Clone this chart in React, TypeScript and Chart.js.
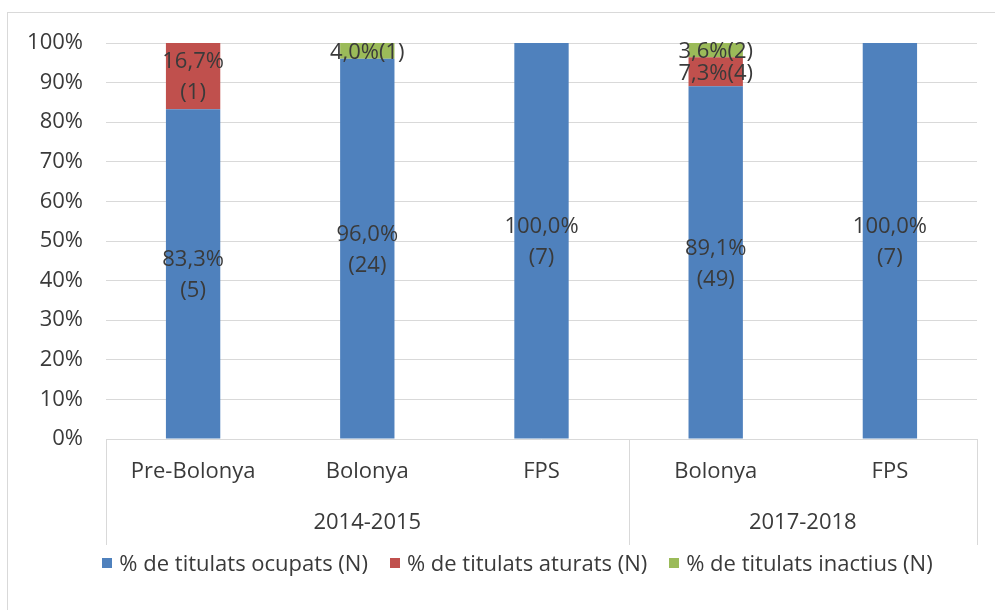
import React, { useEffect, useRef } from "react";
import { Chart, registerables } from "chart.js";

Chart.register(...registerables);

const categories = ["Pre-Bolonya", "Bolonya", "FPS", "Bolonya", "FPS"];
const groupLabels = ["2014-2015", "2017-2018"];
const groupSizes = [3, 2];
const seriesNames = [
  "% de titulats ocupats (N)",
  "% de titulats aturats (N)",
  "% de titulats inactius (N)",
];
const seriesColors = ["#4F81BD", "#C0504D", "#9BBB59"];
const ocupatsPct = [83.3, 96.0, 100.0, 89.1, 100.0];
const aturatsPct = [16.7, 0, 0, 7.3, 0];
const inactiusPct = [0, 4.0, 0, 3.6, 0];
const ocupatsN = [5, 24, 7, 49, 7];
const aturatsN = [1, 0, 0, 4, 0];
const inactiusN = [0, 1, 0, 2, 0];
const yMin = 0;
const yMax = 100;
const yStep = 10;

const FONT_FAMILY = "'Open Sans', sans-serif";
const FONT_SIZE = 22;
const TEXT_COLOR = "#3a3a3a";
const GRID_COLOR = "#d9d9d9";

const countsBySeries = [ocupatsN, aturatsN, inactiusN];

const fmtPct = (v: number) => v.toFixed(1).replace(".", ",") + "%";

const decorPlugin = {
  id: "decor",
  beforeDraw(chart: any) {
    const ctx = chart.ctx;
    ctx.save();
    ctx.fillStyle = "#ffffff";
    ctx.fillRect(0, 0, chart.width, chart.height);
    ctx.strokeStyle = GRID_COLOR;
    ctx.lineWidth = 1;
    ctx.strokeRect(7.5, 12.5, 1020, 640);
    ctx.restore();
  },
  afterDatasetsDraw(chart: any) {
    const ctx = chart.ctx;
    ctx.save();
    ctx.font = `${FONT_SIZE}px ${FONT_FAMILY}`;
    ctx.fillStyle = TEXT_COLOR;
    ctx.textAlign = "center";
    ctx.textBaseline = "middle";
    chart.data.datasets.forEach((ds: any, di: number) => {
      const meta = chart.getDatasetMeta(di);
      meta.data.forEach((bar: any, i: number) => {
        const v = ds.data[i];
        if (!v) return;
        const n = countsBySeries[di][i];
        const top = Math.min(bar.y, bar.base);
        const bottom = Math.max(bar.y, bar.base);
        const cy = (top + bottom) / 2;
        const h = bottom - top;
        const p = fmtPct(v);
        const c = `(${n})`;
        if (h >= 50) {
          ctx.fillText(p, bar.x, cy - 14);
          ctx.fillText(c, bar.x, cy + 17);
        } else {
          ctx.fillText(p + c, bar.x, cy + 2);
        }
      });
    });
    ctx.restore();
  },
  afterDraw(chart: any) {
    const ctx = chart.ctx;
    const xs = chart.scales.x;
    const area = chart.chartArea;
    const n = categories.length;
    const step = (area.right - area.left) / n;
    ctx.save();
    ctx.strokeStyle = GRID_COLOR;
    ctx.lineWidth = 1;
    let idx = 0;
    const bounds: number[] = [0];
    groupSizes.forEach((s) => {
      idx += s;
      bounds.push(idx);
    });
    bounds.forEach((b) => {
      const x = Math.round(xs.getPixelForValue(b) - step / 2) + 0.5;
      ctx.beginPath();
      ctx.moveTo(x, area.bottom);
      ctx.lineTo(x, area.bottom + 106);
      ctx.stroke();
    });
    ctx.font = `${FONT_SIZE}px ${FONT_FAMILY}`;
    ctx.fillStyle = TEXT_COLOR;
    ctx.textAlign = "center";
    ctx.textBaseline = "middle";
    groupLabels.forEach((g, gi) => {
      const a = xs.getPixelForValue(bounds[gi]) - step / 2;
      const b = xs.getPixelForValue(bounds[gi + 1]) - step / 2;
      ctx.fillText(g, (a + b) / 2, area.bottom + 84);
    });
    const box = 10;
    const gapBoxText = 7;
    const gapItems = 22;
    const widths = seriesNames.map((s) => ctx.measureText(s).width);
    const total =
      widths.reduce((a, b) => a + b, 0) +
      seriesNames.length * (box + gapBoxText) +
      (seriesNames.length - 1) * gapItems;
    let x = 517.5 - total / 2;
    const ly = 565;
    ctx.textAlign = "left";
    seriesNames.forEach((s, si) => {
      ctx.fillStyle = seriesColors[si];
      ctx.fillRect(Math.round(x), ly - 2 - box / 2, box, box);
      x += box + gapBoxText;
      ctx.fillStyle = TEXT_COLOR;
      ctx.fillText(s, x, ly);
      x += widths[si] + gapItems;
    });
    ctx.restore();
  },
};

export default function App() {
  const ref = useRef<HTMLCanvasElement | null>(null);
  useEffect(() => {
    if (!ref.current) return;
    const font = { family: FONT_FAMILY, size: FONT_SIZE };
    const chart = new Chart(ref.current, {
      type: "bar",
      data: {
        labels: categories,
        datasets: [ocupatsPct, aturatsPct, inactiusPct].map((d, i) => ({
          label: seriesNames[i],
          data: d,
          backgroundColor: seriesColors[i],
          borderWidth: 0,
          barPercentage: 0.312,
          categoryPercentage: 1,
        })),
      },
      options: {
        animation: false,
        responsive: false,
        maintainAspectRatio: false,
        layout: { padding: { left: 1, right: 18, top: 43, bottom: 0 } },
        plugins: {
          legend: { display: false },
          tooltip: { enabled: false },
        },
        scales: {
          x: {
            stacked: true,
            grid: { display: false, drawTicks: false },
            border: { display: false },
            ticks: {
              font,
              color: TEXT_COLOR,
              padding: 20,
              maxRotation: 0,
              autoSkip: false,
            },
            afterFit: (s: any) => {
              s.height = 171;
            },
          },
          y: {
            stacked: true,
            min: yMin,
            max: yMax,
            ticks: {
              stepSize: yStep,
              font,
              color: TEXT_COLOR,
              padding: 23,
              callback: (v: any) => v + "%",
            },
            grid: { color: GRID_COLOR, drawTicks: false, lineWidth: 1 },
            border: { display: false },
            afterFit: (s: any) => {
              s.width = 105;
            },
          },
        },
      },
      plugins: [decorPlugin],
    });
    return () => chart.destroy();
  }, []);
  return (
    <div style={{ position: "absolute", left: 0, top: 0, width: 995, height: 610 }}>
      <canvas ref={ref} width={995} height={610} style={{ display: "block" }} />
    </div>
  );
}
